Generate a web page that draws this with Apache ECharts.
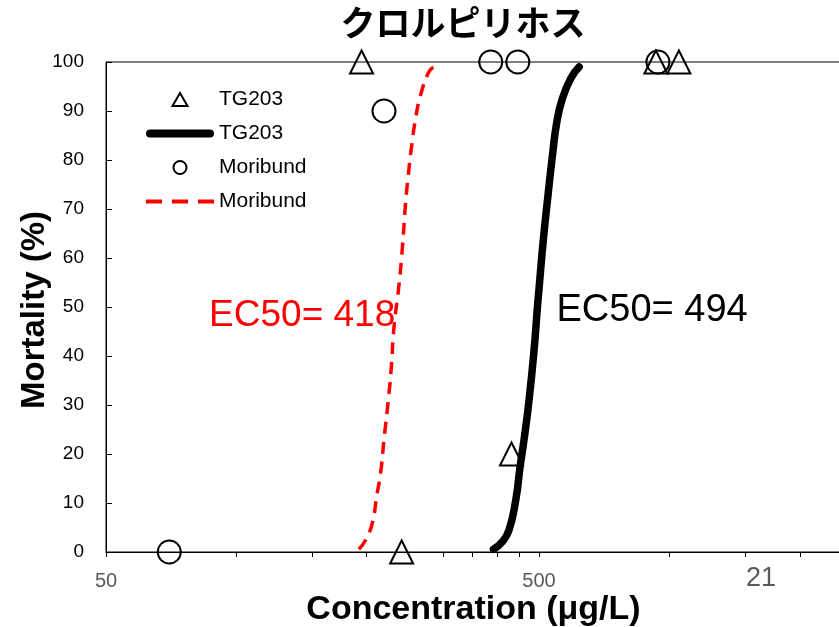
<!DOCTYPE html>
<html>
<head>
<meta charset="utf-8">
<script src="https://cdn.jsdelivr.net/npm/echarts@6/dist/echarts.min.js"></script>
<style>
html,body{margin:0;padding:0;background:#fff;}
#c{width:839px;height:627px;}
</style>
</head>
<body>
<div id="c"></div>
<script>
// ---- data (concentration in µg/L, mortality in %) ----
const tg203Conc = [194.6, 240.8, 431.8, 930.6, 1051.6];
const tg203Mort = [100, 0, 20, 100, 100];
const moribundConc = [70.0, 219.2, 386.7, 446.6, 940.6];
const moribundMort = [0, 90, 100, 100, 100];
const tg203CurveConc = [392.3, 411.5, 426.3, 441.7, 452.0, 461.6, 474.1, 486.9, 495.8, 500, 511.8, 524.5, 537.0, 549.6, 566.3, 592.1, 618.8];
const tg203CurveMort = [0.55, 2.1, 4.5, 10.6, 17.4, 22.9, 31.0, 41.2, 50.1, 53.8, 64.0, 72.9, 81.0, 87.8, 92.6, 96.7, 99.0];
const moribundCurveConc = [191.8, 198.8, 206.0, 210.8, 215.3, 219.2, 224.3, 228.0, 231.1, 237.4, 241.7, 246.0, 249.5, 253.5, 259.4, 266.4, 278.4, 286.0];
const moribundCurveMort = [0.55, 2.45, 5.86, 11.3, 16.1, 22.9, 31.0, 37.8, 45.7, 54.5, 62.0, 71.5, 76.9, 82.4, 88.5, 93.3, 98.0, 99.0];
const xLabelTicks = [50, 500];
const xMinorTicks = [50, 100, 150, 200, 300, 350, 400, 450, 500, 1000, 1500, 2000];
const xMin = 50;
const xMax = 2490;
const ec50Labels = ['EC50= 418', 'EC50= 494'];
const strayLabel = '21';

const LAT = "'Liberation Sans', Arial, sans-serif";
const pairs = (xs, ys) => xs.map((x, i) => [Math.log10(x), ys[i]]);

const chart = echarts.init(document.getElementById('c'), null, {renderer: 'canvas'});
const option = {
  animation: false,
  backgroundColor: '#fff',
  title: {
    text: 'クロルピリホス',
    left: 458, top: 0, textAlign: 'center',
    textStyle: {fontFamily: "'Noto Sans CJK JP', sans-serif", fontSize: 35, fontWeight: 'bold', color: '#000'}
  },
  grid: {left: 106, right: -2, top: 62, bottom: 75, outerBoundsMode: 'none', containLabel: false, show: true, borderColor: '#000', borderWidth: 1, backgroundColor: 'transparent'},
  legend: {
    orient: 'vertical', left: 146, top: 89, padding: 0,
    itemWidth: 68, itemHeight: 13, itemGap: 13,
    selectedMode: false,
    textStyle: {fontFamily: LAT, fontSize: 21, color: '#000', lineHeight: 20},
    data: [
      {name: 'TG203', icon: 'path://M6,0L12,10.4L0,10.4Z'},
      {name: 'TG203 ', icon: 'path://M4,0H64A4,4 0 0 1 64,8H4A4,4 0 0 1 4,0Z'},
      {name: 'Moribund', icon: 'circle'},
      {name: 'Moribund ', icon: 'path://M0,0h16v4h-16zM26,0h16v4h-16zM52,0h16v4h-16z'}
    ]
  },
  xAxis: {
    type: 'value',
    min: Math.log10(xMin), max: Math.log10(xMax),
    name: 'Concentration (μg/L)', nameLocation: 'middle', nameGap: 41, nameMoveOverlap: false,
    nameTextStyle: {fontFamily: LAT, fontSize: 34, fontWeight: 'bold', color: '#000'},
    axisLine: {show: true, lineStyle: {color: '#000', width: 1}},
    axisTick: {show: true, inside: false, length: 5, lineStyle: {color: '#000'}, customValues: xMinorTicks.map(v => Math.log10(v))},
    axisLabel: {
      customValues: xLabelTicks.map(v => Math.log10(v)),
      formatter: v => String(Math.round(Math.pow(10, v))),
      color: '#595959', fontFamily: LAT, fontSize: 20, margin: 19
    },
    splitLine: {show: false}
  },
  yAxis: {
    type: 'value', min: 0, max: 100, interval: 10,
    name: 'Mortality (%)', nameLocation: 'middle', nameGap: 55, nameMoveOverlap: false,
    nameTextStyle: {fontFamily: LAT, fontSize: 33, fontWeight: 'bold', color: '#000', padding: [0, 6, 0, 0]},
    axisLine: {show: true, lineStyle: {color: '#000', width: 1}},
    axisTick: {show: true, inside: true, length: 6, lineStyle: {color: '#000'}},
    axisLabel: {color: '#000', fontFamily: LAT, fontSize: 19, margin: 22},
    splitLine: {show: false}
  },
  series: [
    {
      name: 'TG203', type: 'scatter', symbol: 'triangle', symbolSize: 23, clip: false, z: 5,
      itemStyle: {color: 'rgba(255,255,255,0)', borderColor: '#000', borderWidth: 2, opacity: 1},
      data: pairs(tg203Conc, tg203Mort)
    },
    {
      name: 'TG203 ', type: 'line', symbol: 'none', smooth: true, clip: false, z: 3,
      lineStyle: {color: '#000', width: 7.5, cap: 'round'},
      itemStyle: {color: '#000'},
      data: pairs(tg203CurveConc, tg203CurveMort)
    },
    {
      name: 'Moribund', type: 'scatter', symbol: 'circle', symbolSize: 23, clip: false, z: 5,
      itemStyle: {color: 'rgba(255,255,255,0)', borderColor: '#000', borderWidth: 2, opacity: 1},
      data: pairs(moribundConc, moribundMort)
    },
    {
      name: 'Moribund ', type: 'line', symbol: 'none', smooth: true, clip: false, z: 3,
      lineStyle: {color: '#ff0000', width: 3.5, type: [12, 8]},
      itemStyle: {color: '#ff0000'},
      data: pairs(moribundCurveConc, moribundCurveMort)
    }
  ]
};
chart.setOption(option);

const p1 = chart.convertToPixel({gridIndex: 0}, [Math.log10(86.5), 48.6]);
const p2 = chart.convertToPixel({gridIndex: 0}, [Math.log10(551.5), 49.4]);
const p3 = chart.convertToPixel({gridIndex: 0}, [Math.log10(1611), 0]);
chart.setOption({
  graphic: [
    {type: 'text', left: p1[0], top: p1[1] - 17, style: {text: ec50Labels[0], fill: '#ff0000', font: "37px 'Liberation Sans', Arial, sans-serif"}},
    {type: 'text', left: p2[0] - 1, top: p2[1] - 18, style: {text: ec50Labels[1], fill: '#000', font: "38px 'Liberation Sans', Arial, sans-serif"}},
    {type: 'text', x: p3[0] + 2, y: p3[1] + 27, style: {text: strayLabel, fill: '#595959', font: "27px 'Liberation Sans', Arial, sans-serif", align: 'center', verticalAlign: 'middle'}}
  ]
});
</script>
</body>
</html>
